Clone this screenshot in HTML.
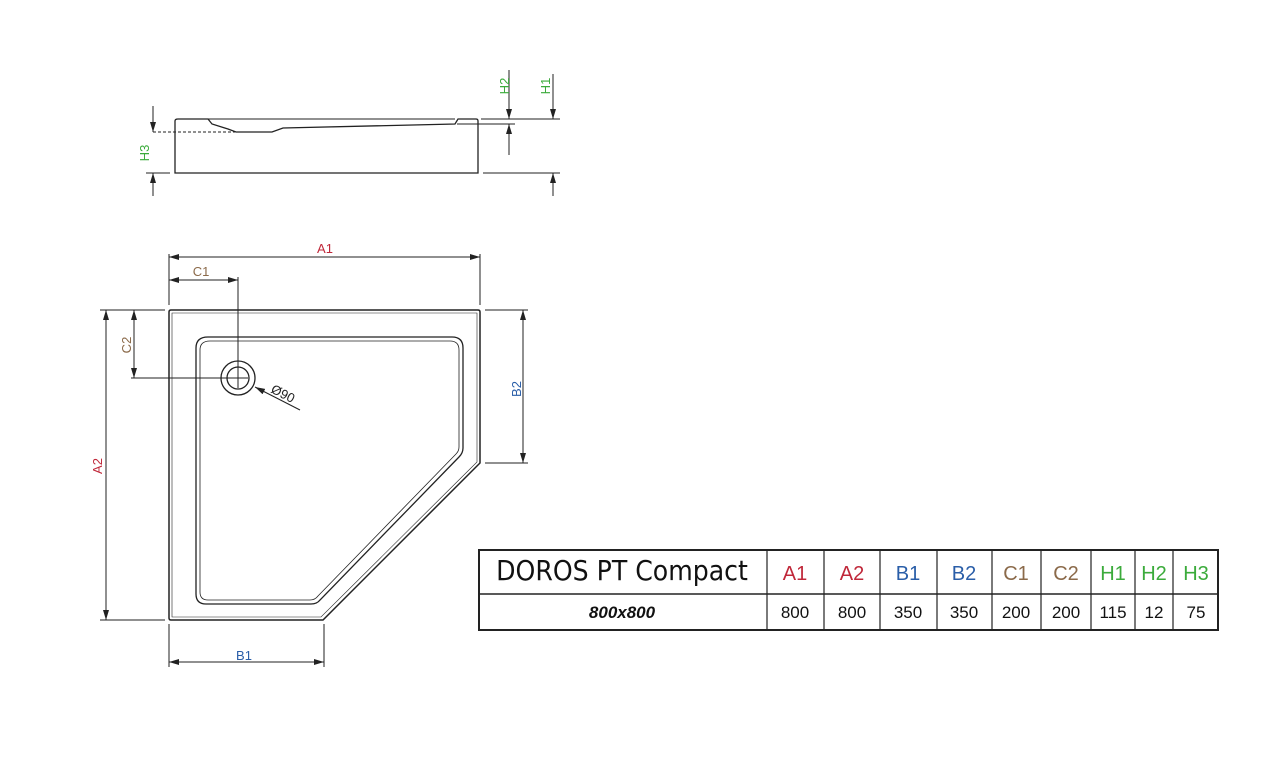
<!DOCTYPE html>
<html><head><style>
body{margin:0;background:#fff;width:1278px;height:764px;overflow:hidden}
svg{position:absolute;left:0;top:0}
text{font-family:"Liberation Sans",sans-serif}
</style></head><body>
<svg width="1278" height="764" viewBox="0 0 1278 764">
<defs>
<marker id="ar" viewBox="0 0 10 6" refX="10" refY="3" markerWidth="10" markerHeight="6" orient="auto-start-reverse" markerUnits="userSpaceOnUse">
<path d="M0,0 L10,3 L0,6 z" fill="#222"/></marker>
</defs>
<g stroke="#222" fill="none" stroke-width="1">
<path d="M175,173 L175,121 Q175,119 178,119 L208,119 L212,124 L228,129 L236,132 L272,132 L283,128 L455,124 L458,119 L476,119 Q478,119 478,121 L478,173 Z" stroke-width="1.3"/>
<path d="M208,119 L455,119" />
<line x1="153" y1="132" x2="235" y2="132" stroke-dasharray="3,2"/>
<line x1="146" y1="173" x2="170" y2="173"/>
<line x1="153" y1="106" x2="153" y2="132" marker-end="url(#ar)"/>
<line x1="153" y1="196" x2="153" y2="173" marker-end="url(#ar)"/>
<line x1="481" y1="119" x2="560" y2="119"/>
<line x1="457" y1="124" x2="515" y2="124"/>
<line x1="483" y1="173" x2="560" y2="173"/>
<line x1="509" y1="70" x2="509" y2="119" marker-end="url(#ar)"/>
<line x1="509" y1="155" x2="509" y2="124" marker-end="url(#ar)"/>
<line x1="553" y1="74" x2="553" y2="119" marker-end="url(#ar)"/>
<line x1="553" y1="196" x2="553" y2="173" marker-end="url(#ar)"/>
<path d="M169,312 Q169,310 171,310 L478,310 Q480,310 480,312 L480,463 L323,620 L171,620 Q169,620 169,618 Z" stroke-width="1.5"/>
<path d="M172,313 L477,313 L477,462 L321,617 L172,617 Z" stroke-width="0.6"/>
<path d="M208,337 L452,337 Q463,337 463,348 L463,448 Q463,453 459,457 L320,600 Q317,604 311,604 L206,604 Q196,604 196,594 L196,348 Q196,337 208,337 Z" stroke-width="1.3"/>
<path d="M210,341 L450,341 Q459,341 459,350 L459,447 Q459,451 456,454 L318,596 Q315,600 310,600 L208,600 Q200,600 200,592 L200,350 Q200,341 210,341 Z" stroke-width="0.8"/>
<circle cx="238" cy="378" r="17" stroke-width="1.3"/>
<circle cx="238" cy="378" r="11" stroke-width="1.3"/>
<line x1="238" y1="277" x2="238" y2="388"/>
<line x1="131" y1="378" x2="248" y2="378"/>
<line x1="300" y1="410" x2="255" y2="387" marker-end="url(#ar)"/>
<line x1="169" y1="254" x2="169" y2="305"/>
<line x1="480" y1="254" x2="480" y2="305"/>
<line x1="169" y1="257" x2="480" y2="257" marker-start="url(#ar)" marker-end="url(#ar)"/>
<line x1="169" y1="280" x2="238" y2="280" marker-start="url(#ar)" marker-end="url(#ar)"/>
<line x1="100" y1="310" x2="165" y2="310"/>
<line x1="100" y1="620" x2="165" y2="620"/>
<line x1="106" y1="310" x2="106" y2="620" marker-start="url(#ar)" marker-end="url(#ar)"/>
<line x1="134" y1="310" x2="134" y2="378" marker-start="url(#ar)" marker-end="url(#ar)"/>
<line x1="485" y1="310" x2="528" y2="310"/>
<line x1="485" y1="463" x2="528" y2="463"/>
<line x1="523" y1="310" x2="523" y2="463" marker-start="url(#ar)" marker-end="url(#ar)"/>
<line x1="169" y1="624" x2="169" y2="667"/>
<line x1="324" y1="624" x2="324" y2="667"/>
<line x1="169" y1="662" x2="324" y2="662" marker-start="url(#ar)" marker-end="url(#ar)"/>
</g>
<g font-size="13">
<text x="325" y="253" fill="#c0283a" text-anchor="middle">A1</text>
<text x="201" y="276" fill="#8b6a4a" text-anchor="middle">C1</text>
<text x="244" y="660" fill="#2a5ea8" text-anchor="middle">B1</text>
<text transform="translate(102,466) rotate(-90)" fill="#c0283a" text-anchor="middle">A2</text>
<text transform="translate(131,345) rotate(-90)" fill="#8b6a4a" text-anchor="middle">C2</text>
<text transform="translate(521,389) rotate(-90)" fill="#2a5ea8" text-anchor="middle">B2</text>
<text transform="translate(149,153) rotate(-90)" fill="#3bab3b" text-anchor="middle">H3</text>
<text transform="translate(509,86) rotate(-90)" fill="#3bab3b" text-anchor="middle">H2</text>
<text transform="translate(550,86) rotate(-90)" fill="#3bab3b" text-anchor="middle">H1</text>
<text transform="translate(270,392) rotate(27)" fill="#222">Ø90</text>
</g>
<g stroke="#222" fill="none">
<rect x="479" y="550" width="739" height="80" stroke-width="2"/>
<line x1="479" y1="594" x2="1218" y2="594" stroke-width="1.5"/>
<g stroke-width="1.2">
<line x1="767" y1="550" x2="767" y2="630"/><line x1="824" y1="550" x2="824" y2="630"/>
<line x1="880" y1="550" x2="880" y2="630"/><line x1="937" y1="550" x2="937" y2="630"/>
<line x1="992" y1="550" x2="992" y2="630"/><line x1="1041" y1="550" x2="1041" y2="630"/>
<line x1="1091" y1="550" x2="1091" y2="630"/><line x1="1135" y1="550" x2="1135" y2="630"/>
<line x1="1173" y1="550" x2="1173" y2="630"/>
</g></g>
<text x="622" y="580" font-size="28" fill="#111" text-anchor="middle" style="font-family:'DejaVu Sans Condensed','Liberation Sans',sans-serif">DOROS PT Compact</text>
<g font-size="20" text-anchor="middle">
<text x="795" y="580" fill="#c0283a">A1</text>
<text x="852" y="580" fill="#c0283a">A2</text>
<text x="908" y="580" fill="#2a5ea8">B1</text>
<text x="964" y="580" fill="#2a5ea8">B2</text>
<text x="1016" y="580" fill="#8b6a4a">C1</text>
<text x="1066" y="580" fill="#8b6a4a">C2</text>
<text x="1113" y="580" fill="#3bab3b">H1</text>
<text x="1154" y="580" fill="#3bab3b">H2</text>
<text x="1196" y="580" fill="#3bab3b">H3</text>
</g>
<text x="622" y="618" font-size="17" font-weight="bold" font-style="italic" text-anchor="middle" fill="#111">800x800</text>
<g font-size="17" text-anchor="middle" fill="#111">
<text x="795" y="618">800</text><text x="852" y="618">800</text>
<text x="908" y="618">350</text><text x="964" y="618">350</text>
<text x="1016" y="618">200</text><text x="1066" y="618">200</text>
<text x="1113" y="618">115</text><text x="1154" y="618">12</text>
<text x="1196" y="618">75</text>
</g>
</svg>
</body></html>
